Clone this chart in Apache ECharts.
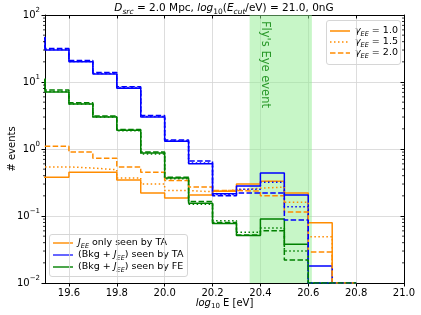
<!DOCTYPE html>
<html>
<head>
<meta charset="utf-8">
<script src="https://cdn.jsdelivr.net/npm/echarts@6/dist/echarts.min.js"></script>
<style>html,body{margin:0;padding:0;background:#fff}#c{width:421px;height:315px}</style>
</head>
<body>
<div id="c"></div>
<script>
// Bin left edges (log10 E) and final right edge
const binEdges = [19.4, 19.5, 19.6, 19.7, 19.8, 19.9, 20.0, 20.1, 20.2, 20.3, 20.4, 20.5, 20.6, 20.7, 20.8];
const xTicks = [19.6, 19.8, 20.0, 20.2, 20.4, 20.6, 20.8, 21.0];
const yTicks = [0.01, 0.1, 1, 10, 100];

// J_EE only seen by TA (orange)
const taOnly_g10 = [0.38, 0.38, 0.45, 0.45, 0.345, 0.22, 0.185, 0.205, 0.235, 0.30, 0.33, 0.22, 0.079, 0];
const taOnly_g15 = [0.54, 0.54, 0.52, 0.49, 0.37, 0.30, 0.24, 0.23, 0.245, 0.26, 0.27, 0.16, 0.049, 0];
const taOnly_g20 = [1.1, 1.1, 0.9, 0.73, 0.54, 0.45, 0.34, 0.27, 0.24, 0.235, 0.20, 0.115, 0.029, 0];
// (Bkg + J_EE) seen by TA (blue)
const taBkg_g10 = [45, 30, 20, 13.2, 8.1, 3.0, 1.3, 0.60, 0.215, 0.28, 0.44, 0.205, 0.018, 0];
const taBkg_g15 = [46, 30.5, 20.3, 13.4, 8.3, 3.05, 1.32, 0.62, 0.21, 0.25, 0.32, 0.137, 0, 0];
const taBkg_g20 = [47, 31.5, 21, 13.9, 8.5, 3.15, 1.36, 0.66, 0.20, 0.22, 0.22, 0.087, 0, 0];
// (Bkg + J_EE) seen by FE (green)
const feBkg_g10 = [10.7, 7.1, 4.7, 3.0, 1.9, 0.87, 0.37, 0.155, 0.077, 0.051, 0.09, 0.038, 0, 0];
const feBkg_g15 = [10.8, 7.2, 4.7, 3.0, 1.88, 0.84, 0.36, 0.15, 0.085, 0.057, 0.066, 0.03, 0, 0];
const feBkg_g20 = [11.2, 7.6, 4.9, 3.1, 1.95, 0.9, 0.38, 0.165, 0.08, 0.052, 0.06, 0.022, 0, 0];

const flyEyeBand = [20.355, 20.615];

const Y_MIN = 0.01, Y_MAX = 100;
const ORANGE = '#ff8c00', BLUE = '#0000ff', GREEN = '#008000';
const DASH = [5.5, 2.4], DOT = [1.5, 2.5];
const FONT = 'DejaVu Sans';

function stepData(vals) {
  const pts = vals.map((v, i) => [binEdges[i], v > 0 ? v : Y_MIN]);
  pts.push([binEdges[vals.length], Y_MIN]);
  return pts;
}
function histSeries(vals, color, type, z) {
  return {
    type: 'line', step: 'end', data: stepData(vals), showSymbol: false, symbol: 'none',
    lineStyle: { color: color, width: 1.5, type: type, cap: 'butt' },
    z: z, animation: false, silent: true, clip: true
  };
}

const minorVals = [];
for (let d = -2; d <= 1; d++) for (let m = 2; m <= 9; m++) minorVals.push([19.5, m * Math.pow(10, d)]);

const LFS = 9.5;
const legendRich = {
  n: { fontSize: LFS, fill: '#000', fontFamily: FONT, lineHeight: 13 },
  i: { fontSize: LFS, fill: '#000', fontFamily: FONT, fontStyle: 'italic', lineHeight: 13 },
  sub: { fontSize: 6.5, fill: '#000', fontFamily: FONT, fontStyle: 'italic', verticalAlign: 'bottom', lineHeight: 8 },
  isub: { fontSize: 6.5, fill: '#000', fontFamily: FONT, fontStyle: 'italic', verticalAlign: 'bottom', lineHeight: 8 }
};
function legText(x, y, t) {
  return { type: 'text', x: x, y: y, style: { text: t, verticalAlign: 'middle', align: 'left', rich: legendRich } };
}
const nameRich = {
  n: { fontSize: 10, fill: '#000', fontFamily: FONT, lineHeight: 14 },
  i: { fontSize: 10, fill: '#000', fontFamily: FONT, fontStyle: 'italic', lineHeight: 14 },
  sub: { fontSize: 7, fill: '#000', fontFamily: FONT, verticalAlign: 'bottom', lineHeight: 8 }
};

const chart = echarts.init(document.getElementById('c'), null, { renderer: 'canvas' });

const supLabel = v => {
  const e = Math.round(Math.log10(v));
  return '{b|10}{s|' + (e < 0 ? '\u2212' + (-e) : e) + '}';
};

chart.setOption({
  animation: false,
  backgroundColor: '#fff',
  title: {
    text: '{i|D}{isub|src}{n| = 2.0 Mpc, }{i|log}{sub|10}{n|(}{i|E}{isub|cut}{n|/eV) = 21.0, 0nG}',
    left: 224, top: 0, padding: 0, textAlign: 'center',
    textStyle: {
      fontWeight: 'normal',
      rich: {
        n: { fontSize: 10.5, color: '#000', fontFamily: FONT, fontWeight: 'normal', lineHeight: 16 },
        i: { fontSize: 10.5, color: '#000', fontFamily: FONT, fontWeight: 'normal', fontStyle: 'italic', lineHeight: 16 },
        sub: { fontSize: 7.5, color: '#000', fontFamily: FONT, fontWeight: 'normal', verticalAlign: 'bottom', lineHeight: 10 },
        isub: { fontSize: 7.5, color: '#000', fontFamily: FONT, fontWeight: 'normal', fontStyle: 'italic', verticalAlign: 'bottom', lineHeight: 10 }
      }
    }
  },
  grid: { left: 45, right: 17, top: 15, bottom: 32, containLabel: false, outerBoundsMode: 'none' },
  xAxis: [{
    type: 'value', min: 19.5, max: 21.0, position: 'bottom',
    axisLine: { show: true, onZero: false, lineStyle: { color: '#000', width: 1 } },
    axisTick: { show: true, inside: false, length: 3.5, customValues: xTicks, lineStyle: { color: '#000', width: 1 } },
    axisLabel: { show: true, margin: 5, color: '#000', fontSize: 10, fontFamily: FONT, customValues: xTicks,
      formatter: v => v.toFixed(1) },
    splitLine: { show: true, lineStyle: { color: '#d4d4d4', width: 0.8 } }
  }, {
    type: 'value', min: 19.5, max: 21.0, position: 'top',
    axisLine: { show: true, onZero: false, lineStyle: { color: '#000', width: 1 } },
    axisTick: { show: true, inside: true, length: 3.5, customValues: xTicks, lineStyle: { color: '#000', width: 1 } },
    axisLabel: { show: false }, splitLine: { show: false }
  }],
  yAxis: [{
    type: 'log', logBase: 10, min: Y_MIN, max: Y_MAX, position: 'left',
    axisLine: { show: true, onZero: false, lineStyle: { color: '#000', width: 1 } },
    axisTick: { show: true, inside: false, length: 3.5, lineStyle: { color: '#000', width: 1 } },
    axisLabel: { show: true, margin: 5, formatter: supLabel,
      rich: {
        b: { fontSize: 10, color: '#000', fontFamily: FONT, lineHeight: 16 },
        s: { fontSize: 7, color: '#000', fontFamily: FONT, verticalAlign: 'top', lineHeight: 9 }
      } },
    splitLine: { show: true, lineStyle: { color: '#d4d4d4', width: 0.8 } }
  }, {
    type: 'log', logBase: 10, min: Y_MIN, max: Y_MAX, position: 'right',
    axisLine: { show: true, onZero: false, lineStyle: { color: '#000', width: 1 } },
    axisTick: { show: true, inside: true, length: 3.5, lineStyle: { color: '#000', width: 1 } },
    axisLabel: { show: false }, splitLine: { show: false }
  }],
  series: [
    {
      type: 'line', data: [], z: 1, silent: true,
      markArea: {
        silent: true,
        itemStyle: { color: 'rgba(144,238,144,0.5)' },
        data: [[{ xAxis: flyEyeBand[0] }, { xAxis: flyEyeBand[1] }]]
      }
    },
    {
      type: 'custom', data: minorVals, z: 5, silent: true, clip: false,
      renderItem: function (params, api) {
        const pL = api.coord([19.5, api.value(1)]);
        const pR = api.coord([21.0, api.value(1)]);
        return {
          type: 'group', children: [
            { type: 'line', shape: { x1: pL[0] - 2, y1: pL[1], x2: pL[0], y2: pL[1] }, style: { stroke: '#000', lineWidth: 0.8 } },
            { type: 'line', shape: { x1: pR[0] - 2, y1: pR[1], x2: pR[0], y2: pR[1] }, style: { stroke: '#000', lineWidth: 0.8 } }
          ]
        };
      }
    },
    histSeries(taOnly_g10, ORANGE, 'solid', 3),
    histSeries(taBkg_g10, BLUE, 'solid', 3),
    histSeries(feBkg_g10, GREEN, 'solid', 3),
    histSeries(taOnly_g15, ORANGE, DOT, 3),
    histSeries(taBkg_g15, BLUE, DOT, 3),
    histSeries(feBkg_g15, GREEN, DOT, 3),
    histSeries(taOnly_g20, ORANGE, DASH, 3),
    histSeries(taBkg_g20, BLUE, DASH, 3),
    histSeries(feBkg_g20, GREEN, DASH, 3)
  ],
  graphic: [
    {
      type: 'text', x: 12, y: 149, rotation: Math.PI / 2,
      style: { text: '# events', fontSize: 10, fontFamily: FONT, fill: '#000', align: 'center', verticalAlign: 'middle' }
    },
    {
      type: 'text', x: 224.5, y: 303,
      style: { text: '{i|log}{sub|10}{n| E [eV]}', align: 'center', verticalAlign: 'middle', rich: nameRich }
    },
    {
      type: 'text', x: 265, y: 21, rotation: -Math.PI / 2, z: 10,
      style: { text: "Fly's Eye event", fontSize: 11.5, fontFamily: FONT, fill: 'rgba(0,128,0,0.8)', align: 'left', verticalAlign: 'middle' }
    },
    {
      type: 'group', z: 20, children: [
        { type: 'rect', shape: { x: 326.5, y: 20.5, width: 74, height: 44, r: 2.5 }, style: { fill: 'rgba(255,255,255,0.8)', stroke: '#cccccc', lineWidth: 0.8 } },
        { type: 'line', shape: { x1: 330, y1: 31, x2: 350, y2: 31 }, style: { stroke: ORANGE, lineWidth: 1.5 } },
        { type: 'line', shape: { x1: 330, y1: 42, x2: 350, y2: 42 }, style: { stroke: ORANGE, lineWidth: 1.5, lineDash: DOT } },
        { type: 'line', shape: { x1: 330, y1: 53, x2: 350, y2: 53 }, style: { stroke: ORANGE, lineWidth: 1.5, lineDash: DASH } },
        legText(355, 31, '{i|\u03b3}{sub|EE}{n| = 1.0}'),
        legText(355, 42, '{i|\u03b3}{sub|EE}{n| = 1.5}'),
        legText(355, 53, '{i|\u03b3}{sub|EE}{n| = 2.0}')
      ]
    },
    {
      type: 'group', z: 20, children: [
        { type: 'rect', shape: { x: 49.5, y: 234.5, width: 138, height: 42, r: 2.5 }, style: { fill: 'rgba(255,255,255,0.8)', stroke: '#cccccc', lineWidth: 0.8 } },
        { type: 'line', shape: { x1: 53, y1: 243, x2: 73, y2: 243 }, style: { stroke: ORANGE, lineWidth: 2, opacity: 0.7 } },
        { type: 'line', shape: { x1: 53, y1: 255, x2: 73, y2: 255 }, style: { stroke: BLUE, lineWidth: 2, opacity: 0.6 } },
        { type: 'line', shape: { x1: 53, y1: 267, x2: 73, y2: 267 }, style: { stroke: GREEN, lineWidth: 2, opacity: 0.7 } },
        legText(78, 243, '{i|J}{isub|EE}{n| only seen by TA}'),
        legText(78, 255, '{n|(Bkg + }{i|J}{isub|EE}{n|) seen by TA}'),
        legText(78, 267, '{n|(Bkg + }{i|J}{isub|EE}{n|) seen by FE}')
      ]
    }
  ]
});
</script>
</body>
</html>
